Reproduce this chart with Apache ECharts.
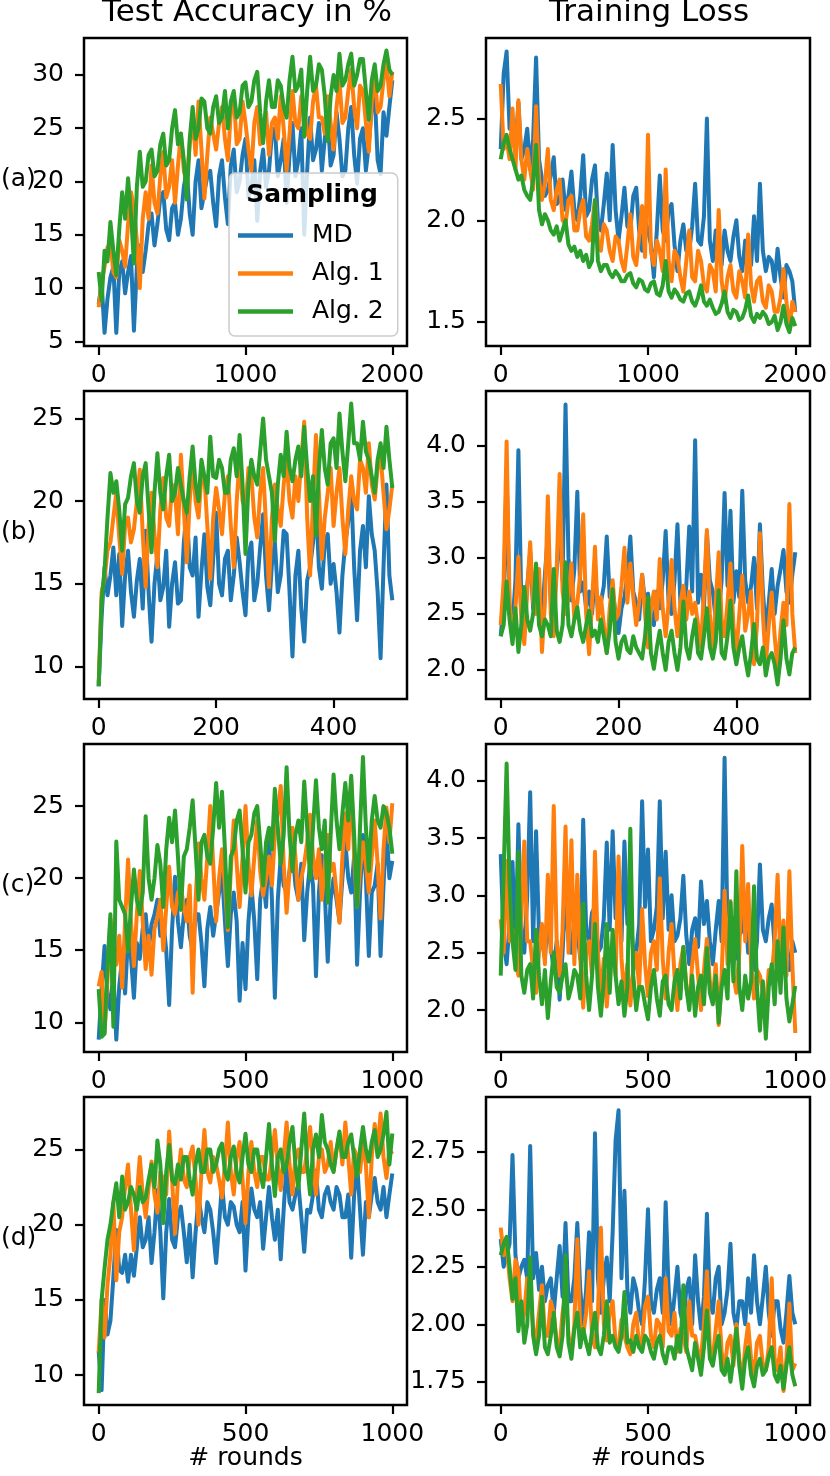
<!DOCTYPE html>
<html>
<head>
<meta charset="utf-8">
<title>Sampling comparison</title>
<script src="https://cdn.jsdelivr.net/npm/echarts@6.0.0/dist/echarts.min.js"></script>
</head>
<body style="margin:0;padding:0;background:#fff;">
<div id="main" style="width:830px;height:1476px;"></div>
<script type="text/javascript">
// series names
var names = ['MD', 'Alg. 1', 'Alg. 2'];
var colors = ['#1f77b4', '#ff7f0e', '#2ca02c'];

// (a) 2000 rounds, one point every 20 rounds
var aAccMD = [8.5,10.5,5.8,9,11,12,5.8,11.5,12.5,9.5,11.5,13,6,12,14,11.5,13.5,16,17,14,16,18.5,19,15.5,14.5,17.5,18,15,16.5,19.5,21,17,15,20,22,17.5,19,20.5,21,18,15.8,20.5,22,18.5,16,21.5,23,19,20,22.5,24,18.5,19.5,22,16.3,21,23,19.5,21,24.5,25,20.5,22,24,18,22.5,25.5,20.5,22,25,15,21,26,22,23,25.5,21,24,26,21.5,22.5,26.5,24,20.5,21,25,27,22.5,19.8,24,25,21,23.5,27,28.3,22,20.7,26.5,24.3,27,29.5];
var aAccA1 = [8.2,10.5,12,13.8,14.3,11.5,11,14.5,13.5,12,16,19,17.5,14.5,10,16.5,19,16.5,21.5,18,17,20.5,22.8,18.5,19.5,22,18,21.5,24.5,21,20,23.5,26,22.5,27.5,23,18.4,22.5,26,24.5,23,25.5,27,24,22,26.5,28,23.5,24,27.5,25.5,23,21,25.5,27,23.5,24,26.5,22.5,25.5,26,24,28,25,21,24.5,28.5,25.5,25,28,27,24.5,24,27.5,29,26,26,24.5,28,25.5,23,27,29.5,25.5,26,28.5,30.5,27,25,29,28.5,25.5,22.8,27.5,30,26.5,27,29.5,31.2,28,30.3];
var aAccA2 = [11.5,8.8,13.5,12.5,16.2,13.5,11.2,15.5,19,16.5,20.3,17,12.3,19.5,22.8,19.5,20,22.5,23,20.5,21,23.5,24.5,21.5,22,25,26.7,23.5,24.5,22,18.3,24,27,24,25,27.8,27.5,25,24.5,27,28,25.5,26,28.5,25,27.5,28.5,26,26.5,29,29.3,27,27.5,29.5,30.3,26.5,23.6,27.5,29.5,27,27,29.5,29,27,26,29.5,31.7,28.5,29,30.5,24.2,28.5,31.7,28.5,29,31,30.5,28,23.8,28,30,28.5,32,29,29.5,31,32,29,30,31.5,31.5,28.5,25.8,29.5,31,28.5,29,31,32.3,30.5,30];
var aLossMD = [2.35,2.72,2.83,2.45,2.5,2.35,2.58,2.3,2.35,2.45,2.25,2.4,2.8,2.3,2.2,2.12,2.15,2.22,2.31,2.08,2.1,2.2,2.05,2.12,2.24,2.05,2.0,2.12,2.32,2.02,2.05,2.2,2.27,2.0,1.95,2.08,2.23,2.0,2.37,2.05,1.9,2.02,2.16,1.97,1.95,2.12,2.16,1.95,1.85,2.0,1.95,1.88,1.72,1.95,2.22,1.95,1.9,2.05,2.08,1.88,1.75,1.9,1.98,1.85,1.85,1.97,2.18,1.9,1.88,2.02,2.5,1.9,1.8,1.95,1.85,1.78,1.95,1.85,1.8,1.92,2.0,1.82,1.75,1.9,1.85,1.78,2.02,1.8,2.18,1.85,1.75,1.82,1.8,1.7,1.86,1.72,1.62,1.78,1.75,1.7,1.55];
var aLossA1 = [2.67,2.35,2.4,2.3,2.55,2.25,2.59,2.3,2.2,2.35,2.25,2.15,2.56,2.2,2.1,2.18,2.35,2.1,2.05,2.15,2.2,2.0,1.98,2.1,2.12,1.95,1.95,2.05,2.1,1.92,1.9,1.98,2.1,1.9,1.85,1.98,1.95,1.85,1.8,1.92,1.9,1.8,1.75,1.88,2.03,1.82,1.78,1.92,2.07,1.82,2.42,1.85,1.78,1.9,1.85,1.75,2.25,1.8,1.7,1.85,1.82,1.72,1.65,1.8,1.95,1.72,1.7,1.85,1.8,1.68,1.65,1.78,1.75,1.65,2.05,1.7,1.6,1.72,1.78,1.65,1.62,1.75,1.7,1.62,1.93,1.68,1.6,1.7,1.72,1.6,1.57,1.68,1.65,1.55,1.55,1.62,1.76,1.6,1.46,1.6,1.55];
var aLossA2 = [2.3,2.38,2.42,2.35,2.3,2.25,2.2,2.22,2.15,2.12,2.1,2.2,2.37,2.05,1.98,2.03,2.0,1.95,1.93,1.97,1.9,1.95,2.0,1.88,1.85,1.87,1.82,1.85,1.8,1.83,1.77,1.8,2.1,1.8,1.75,1.78,1.78,1.74,1.72,1.75,1.73,1.7,1.7,1.73,1.74,1.69,1.67,1.71,1.7,1.66,1.65,1.69,1.7,1.64,1.63,1.68,1.8,1.65,1.62,1.66,1.64,1.61,1.6,1.64,1.65,1.6,1.58,1.62,1.68,1.6,1.58,1.61,1.57,1.54,1.55,1.59,1.65,1.55,1.52,1.56,1.55,1.51,1.52,1.56,1.63,1.53,1.5,1.54,1.52,1.55,1.53,1.49,1.5,1.53,1.46,1.5,1.58,1.49,1.45,1.52,1.48];

// (b) 500 rounds, one point every 5 rounds
var bAccMD = [8.8,13,16,14.3,15.5,17.2,14.3,16.8,12.45,15.5,17,14.5,13,15.2,16.5,13.5,18.2,14.5,11.5,15,16.8,14,14.8,17,12.4,15,16.3,13.8,14,17.5,19.5,16,15.5,17.8,13,15.8,18,14.8,13.7,16.5,19.3,15,14.3,16.5,17,14,15.5,17.8,16.3,14.5,13.1,16.8,17.5,14,15,17.2,19.2,15.5,13.4,16.2,17.5,14.5,15.5,18.2,18,14.5,10.6,15.5,17,13.5,11.5,15.2,16,17.5,19.8,16,14.7,17.5,18,15,16.2,14.5,12.05,15.5,17.5,18.8,20.7,16,12.8,17,18.5,16,20.3,18,17,14.5,10.5,16,21,15.5,14];
var bAccA1 = [9,14.5,15.3,17,17.5,19,20.5,17.8,15.6,18.5,19,17.5,18.3,20,21.9,18,14.8,18.5,20.5,18,16,19.5,21.4,19,18.5,21,20.5,18,22.8,19.5,16.3,20,22.4,20,19,21.5,21.5,18.5,15.3,19,20.8,19.5,18,20.5,21.5,18.5,16,20,22.5,20,19.5,22,21.5,19,17.8,20.5,22,18.5,14.8,19,21,19.5,18.5,21,22.5,20,19,21.5,20,22.5,24.8,19,15.5,20,24,20.5,16.5,19,20.5,22,18.5,20.5,22,19,16.8,19.5,21.5,20,19.5,22.5,22,20.5,23.5,21,20.1,22,22.8,20.5,18.3,19.5,21];
var bAccA2 = [8.8,14,15.8,19,21.7,20.5,21.2,19.5,17,19.8,20.2,21.5,22.3,20,19.3,21.5,22.3,19.5,16.9,20.5,22.9,20.5,19.5,21.5,22.8,20,20.5,22,21,20,19.3,21.5,23.3,21,20,22.5,21.5,20.5,23.9,21.5,21.4,22.5,22,20.5,20.5,22.5,23.2,21.5,24,21,16.8,21,22.5,21.5,21,23,25,22.5,21.5,20.5,17.6,21,22.8,21.5,24.2,22,21.2,22.5,23.3,21.5,24.5,22,20,21.5,17.9,22,24.3,22,21,23.5,23.8,22,25.3,23,21.2,23.5,25.9,23.5,23.5,22.5,24.8,23,22.5,21.5,20.5,22.5,23.5,22,24.5,22.5,20.8];
var bLossMD = [2.3,2.6,3.77,2.5,2.4,2.8,3.96,2.6,2.5,2.75,3.05,2.55,2.9,2.6,2.45,2.85,3.2,2.6,2.55,2.9,3.28,2.8,4.37,3.0,2.62,2.9,3.59,2.7,2.78,2.55,2.7,2.5,2.85,2.55,2.6,2.75,3.19,2.65,2.7,2.5,2.33,2.55,2.65,2.85,3.19,2.7,2.6,2.45,2.85,2.6,2.68,2.5,2.4,2.7,2.55,2.8,3.24,2.6,2.5,2.8,3.3,2.6,2.45,2.75,3.28,2.7,4.05,2.6,2.85,2.55,3.22,2.8,2.7,2.45,2.5,2.8,3.58,2.75,3.42,2.6,2.88,2.65,3.6,2.8,2.6,2.75,3.0,2.55,3.3,2.7,2.35,2.6,2.9,2.5,2.75,2.9,3.07,2.7,2.6,2.85,3.05];
var bLossA1 = [2.4,2.8,4.04,2.6,2.3,2.55,3.01,2.45,2.23,2.7,3.14,2.6,2.5,2.9,2.16,2.6,3.55,2.5,2.3,2.9,3.75,2.7,2.5,2.65,2.95,2.45,2.6,2.85,3.39,2.5,2.14,2.6,3.1,2.45,2.65,2.4,2.15,2.55,2.8,2.45,2.5,2.75,3.09,2.6,2.95,2.65,2.4,2.6,2.85,2.5,2.2,2.55,2.7,2.45,2.99,2.55,2.3,2.6,2.98,2.55,2.3,2.6,2.75,2.45,2.7,2.5,2.6,2.4,2.2,2.7,3.25,2.5,2.15,2.6,3.05,2.45,2.3,2.6,2.95,2.4,2.15,2.5,2.84,2.35,2.5,2.7,2.05,2.4,3.22,2.5,2.05,2.4,2.69,2.3,2.01,2.35,2.6,2.4,3.48,2.5,2.15];
var bLossA2 = [2.3,2.4,2.79,2.45,2.23,2.55,2.16,2.4,2.74,2.45,2.35,2.5,2.95,2.4,2.3,2.45,2.4,2.3,2.9,2.35,2.25,2.4,2.96,2.4,2.3,2.45,2.56,2.35,2.25,2.4,2.53,2.3,2.35,2.25,2.45,2.3,2.15,2.35,2.72,2.25,2.1,2.25,2.3,2.18,2.15,2.3,2.2,2.15,2.1,2.3,2.65,2.15,2.01,2.2,2.35,2.15,2.0,2.25,2.35,2.15,2.0,2.2,2.61,2.2,2.1,2.3,2.45,2.15,2.1,2.3,2.55,2.2,2.1,2.25,2.71,2.15,2.1,2.3,2.62,2.2,2.05,2.2,2.3,2.1,1.95,2.15,2.41,2.1,2.05,2.2,1.95,2.1,2.15,2.05,1.87,2.1,2.44,2.1,1.96,2.15,2.2];

// (c) 1000 rounds, one point every 10 rounds
var cAccMD = [8.8,12.3,15.3,12,10.9,13.5,8.8,12.5,14.5,12,16,14.5,11.7,15.5,14.4,16.5,17.5,15,16.8,17.5,18.5,16,17,15,11.2,16.5,20.1,17,15.2,17.5,18.5,16,15,17.5,17.5,15.5,12.5,16.5,18,16,17.5,19,20.5,17,13.9,17.5,19,17,11.5,15.5,12.3,17,19.5,17,13,18.5,20,18,22.8,18.5,11.7,18.5,21.5,19.5,19,20.5,22,19.5,18.5,21,15.7,19,21,19.5,13.2,19,21.6,19,14.2,18.5,20,18.5,17,20,22.5,20,19,21.5,14,19,23,20,14.6,19,19.5,21,14.6,19.5,23.6,20,21.2];
var cAccA1 = [12.5,13.5,9.3,13,17.2,15.5,14,16,12.4,17,21.3,17,13.9,17.5,20.5,17,13.7,16,13.3,16.5,17.3,18.5,15,18,20.8,18,17.5,19,19.4,18,17,19.5,12.05,18.5,22.4,20,18.5,21.5,25,21,17,20,22,19.5,16.4,20.5,24,21,18,21.5,25,21,18.8,21.5,24,20.5,18.8,20,21.5,19.5,23,24.5,26.4,21,17.6,20.5,23.5,21.5,18.5,20,21,22.5,24.4,21.5,20,22,18.5,21,23,20.5,21,19,16.9,21.5,24.5,22,26.7,21.5,18,20.5,22.5,21,19,21.5,24,21,17.2,22,24.9,22.5,25.2];
var cAccA2 = [12.3,9,9.2,14,17.5,9.7,22.55,18.5,18,17.5,14.9,18,20.6,18.5,17.5,19,24.3,20,18.5,20,22.3,21,18,22,24.2,22.5,24.7,21.5,17.8,21.5,22,23.5,25.4,22,18.5,22.5,23,21.5,21,23.5,26.6,23.5,26,22,16.6,21.5,22,24,24.7,22,19,22.5,23,24.5,25,22.5,19.5,22.5,23.5,22,26.2,23.5,21,23,27.7,23,20.5,23,24,22.5,26.7,23.5,20,23.5,26.8,23.5,22,24,18.3,23,27.2,24,22,24.5,26.6,24,27.1,23,18,23.5,28.4,23.5,20.5,24,25.7,24,23.5,25,24.5,23.5,21.7];
var cLossMD = [3.36,2.6,2.4,2.75,3.29,2.5,3.62,2.7,2.5,3.0,3.9,2.6,3.56,2.65,2.6,2.45,2.8,2.55,2.35,2.6,2.09,2.5,3.05,2.6,2.5,2.8,2.7,2.45,3.66,2.7,2.6,2.85,2.9,2.5,2.55,2.8,3.46,2.7,3.56,2.8,3.1,2.6,3.47,2.75,2.85,2.5,2.5,2.75,3.82,2.9,3.4,2.6,2.7,2.9,3.82,2.8,3.38,2.7,3.0,2.6,2.65,2.8,3.17,2.65,2.4,2.7,2.8,2.55,3.12,2.75,2.95,2.6,2.4,2.7,2.95,2.6,4.2,2.7,2.5,2.8,2.45,2.65,2.7,2.9,2.5,2.75,2.35,2.6,3.27,2.7,2.6,2.8,2.92,2.55,2.45,2.7,2.65,2.4,2.35,2.6,2.5];
var cLossA1 = [2.79,2.5,3.3,2.6,2.7,2.45,2.3,2.8,3.47,2.6,2.6,2.35,2.15,2.5,2.75,2.4,3.18,2.5,3.78,2.6,2.3,2.7,3.6,2.5,3.48,2.4,3.18,2.45,2.02,2.5,2.6,2.3,3.38,2.5,2.1,2.45,2.03,2.4,2.6,2.3,3.34,2.45,2.1,2.4,2.04,2.35,2.5,2.2,2.88,2.4,2.12,2.5,2.6,2.35,3.15,2.45,2.1,2.5,2.75,2.3,2.0,2.4,2.55,2.2,2.05,2.4,2.62,2.3,2.0,2.35,2.62,2.25,2.1,2.4,1.87,2.3,3.04,2.4,2.95,2.3,2.15,2.5,3.43,2.6,3.1,2.4,2.1,2.35,2.3,2.15,2.0,2.35,2.3,2.6,3.18,2.4,2.78,2.3,3.21,2.4,1.8];
var cLossA2 = [2.3,3.2,4.15,3.1,2.6,2.35,3.38,2.3,2.15,2.35,2.4,2.1,2.7,2.3,2.05,2.35,1.93,2.25,2.5,2.2,2.15,2.3,2.4,2.1,2.2,2.35,2.3,2.1,2.93,2.3,2.0,2.3,2.75,2.2,1.95,2.25,2.75,2.15,2.7,2.3,2.05,2.25,1.95,2.2,3.58,2.3,2.0,2.2,2.2,2.05,1.92,2.2,2.35,2.1,1.95,2.25,2.3,2.05,2.0,2.25,2.35,2.1,2.55,2.2,2.0,2.3,1.95,2.2,2.3,2.05,2.54,2.15,2.05,2.3,1.89,2.2,2.35,2.1,2.94,2.25,3.21,2.2,2.0,2.3,2.1,2.25,3.08,2.2,1.82,2.25,1.75,2.2,2.4,2.05,2.6,2.15,2.72,2.1,1.9,2.05,2.21];

// (d) 1000 rounds, one point every 10 rounds
var dAccMD = [11.6,9,15,12.7,13.6,16.5,19.65,17,16.8,18,16.2,18,16.6,18.5,20.5,18.5,19,20.5,17.45,19.5,22.3,19.5,15.1,19.5,21.7,19,18.5,20.5,21.2,19.5,17.5,20,16.5,19.5,21.8,20.5,19.5,21.5,21,19.5,17.45,20,22.7,20.5,20,21.5,21.2,20,19.5,21.5,16.95,20.5,22.4,21,20.5,21.5,18.4,20.5,22.5,20.5,19,21,17.7,21,24.1,21.5,21,22,22.7,20.5,18.2,21,20.8,22,23.6,21,20.5,22,22.5,21.5,21,22.5,22,20.5,20.5,22,17.8,22,24.1,21,18,21.5,20.5,22,23.1,21.5,21,22.5,20.5,22,23.4];
var dAccA1 = [11.5,15,12.5,16,18,21.5,16.3,19.5,20.5,22.5,24,21,18.3,22,24.5,22,20.5,22.5,24.2,22,20.8,23.5,23,22,26.2,23,19.4,23,25,23,22.5,24.5,25.2,23,20,23.5,26.3,23.5,22.8,24.5,24,23,21.8,24,26.8,23.5,22,24.5,25.5,23,20.1,23.5,25.5,23.5,22.5,24.5,24.5,23,23,24.5,26.3,24,22.3,24.5,26.8,24,22,24.5,25,23.5,23.5,25,26.5,24,22,24.5,25,23.5,24,25.5,23.6,25,26,24,26.8,24.5,22,25,24.5,23.5,25.5,24,20.5,24.5,26.7,25,27.4,24.5,23.1,25,24.7];
var dAccA2 = [8.8,15,17.1,19,20,21.5,22.75,20.5,23.2,21,21.5,22.5,22,21,22.5,21.5,21.8,23,24,22.5,25.6,24,20.1,23.5,25.3,23,22.7,24,23,24.5,24.5,23,22,24,25,23.5,23.5,25,25,23.5,24,25,25.4,23.5,23,24.5,25.2,23.5,22.8,24.5,26.05,24,23.5,25,25,23.5,22.5,24.5,26.7,24,21.9,24.5,25,23.5,24,25.5,26.5,24,22.4,25,27.4,24,22,25,26,24.5,27.3,25.5,25,24,23.5,25,26.2,24.5,24.5,25.5,26,24.5,23.2,25,26.5,25,24.2,25.5,26.3,24.5,25,26,27.5,24,26.06];
var dLossMD = [2.37,2.25,2.3,2.35,2.736,2.3,2.2,2.25,2.28,2.2,2.775,2.2,2.31,2.15,2.25,2.1,2.17,2.2,2.05,2.2,2.34,2.12,2.44,2.1,2.1,2.2,2.44,2.15,2.0,2.15,2.4,2.1,2.83,2.2,2.05,2.2,2.29,2.1,2.4,2.8,2.93,2.2,2.58,2.15,2.05,2.2,2.15,2.05,2.0,2.2,2.5,2.1,2.05,2.15,2.2,2.05,2.53,2.15,2.0,2.12,2.25,2.05,2.0,2.15,2.2,2.0,2.3,2.1,1.98,2.12,2.48,2.1,2.05,2.2,2.25,2.0,2.05,2.15,2.35,2.05,1.98,2.1,2.1,2.0,2.2,2.05,2.3,2.1,2.0,2.12,2.25,2.05,1.95,2.1,2.1,1.98,1.92,2.05,2.21,2.05,2.0];
var dLossA1 = [2.42,2.3,2.35,2.2,2.1,2.28,2.23,2.0,2.05,2.2,2.15,1.98,1.93,2.05,2.17,1.95,1.95,2.1,2.05,1.92,1.9,2.05,2.13,1.95,1.87,2.0,2.37,1.97,1.95,2.05,2.23,1.95,1.9,2.05,2.42,2.0,1.93,2.05,2.1,1.92,1.9,2.02,1.95,1.9,1.87,2.0,2.05,1.9,1.93,2.08,2.12,1.95,1.9,2.02,2.0,1.9,2.2,1.97,1.95,2.05,1.88,1.98,1.95,1.88,2.1,1.95,1.95,1.88,1.85,2.0,2.23,1.9,1.85,1.98,2.1,1.88,1.8,1.92,1.95,1.82,2.0,1.85,1.75,1.9,2.0,1.85,1.78,1.92,1.95,1.82,1.8,1.9,2.2,1.85,1.8,1.9,1.71,1.85,2.09,1.8,1.83];
var dLossA2 = [2.3,2.35,2.38,2.25,2.11,2.2,1.97,2.1,1.92,2.0,2.29,1.95,1.87,1.95,2.12,1.9,1.87,1.95,2.05,1.9,1.86,1.95,2.3,1.92,1.85,1.98,2.05,1.9,1.98,1.92,1.87,1.97,2.05,1.9,1.87,1.95,2.1,1.92,1.95,1.9,1.88,1.95,2.14,1.92,1.93,1.88,1.95,1.9,1.88,1.95,1.93,1.88,1.85,1.92,1.95,1.87,1.83,1.9,1.9,1.85,1.95,1.88,2.17,1.9,1.85,1.8,1.92,1.85,1.78,1.9,2.06,1.85,1.82,1.9,1.95,1.8,1.78,1.85,1.75,1.85,1.98,1.82,1.72,1.85,1.9,1.78,1.73,1.82,1.85,1.78,1.8,1.86,1.9,1.78,1.75,1.82,1.72,1.82,1.9,1.78,1.73];

// tick labels
var xTicks2000 = [0, 1000, 2000];
var xTicks500 = [0, 200, 400];
var xTicks1000 = [0, 500, 1000];
var accTicksA = [5, 10, 15, 20, 25, 30];
var accTicks = [10, 15, 20, 25];
var lossTicksA = [1.5, 2.0, 2.5];
var lossTicksBC = [2.0, 2.5, 3.0, 3.5, 4.0];
var lossTicksD = [1.75, 2.00, 2.25, 2.50, 2.75];

var panels = [
	{ row: 0, col: 0, xmax: 2000, step: 20, xt: xTicks2000, ylim: [4.56, 33.47], yt: accTicksA, dec: 0, d: [aAccMD, aAccA1, aAccA2] },
	{ row: 0, col: 1, xmax: 2000, step: 20, xt: xTicks2000, ylim: [1.382, 2.896], yt: lossTicksA, dec: 1, d: [aLossMD, aLossA1, aLossA2] },
	{ row: 1, col: 0, xmax: 500, step: 5, xt: xTicks500, ylim: [8.03, 26.66], yt: accTicks, dec: 0, d: [bAccMD, bAccA1, bAccA2] },
	{ row: 1, col: 1, xmax: 500, step: 5, xt: xTicks500, ylim: [1.74, 4.49], yt: lossTicksBC, dec: 1, d: [bLossMD, bLossA1, bLossA2] },
	{ row: 2, col: 0, xmax: 1000, step: 10, xt: xTicks1000, ylim: [7.94, 29.31], yt: accTicks, dec: 0, d: [cAccMD, cAccA1, cAccA2] },
	{ row: 2, col: 1, xmax: 1000, step: 10, xt: xTicks1000, ylim: [1.634, 4.32], yt: lossTicksBC, dec: 1, d: [cLossMD, cLossA1, cLossA2] },
	{ row: 3, col: 0, xmax: 1000, step: 10, xt: xTicks1000, ylim: [8.01, 28.49], yt: accTicks, dec: 0, d: [dAccMD, dAccA1, dAccA2] },
	{ row: 3, col: 1, xmax: 1000, step: 10, xt: xTicks1000, ylim: [1.649, 2.988], yt: lossTicksD, dec: 2, d: [dLossMD, dLossA1, dLossA2] }
];

var rowTop = [38, 391, 744, 1097];
var colLeft = [84, 486];
var colWidth = [323, 324];
var FONT = 'DejaVu Sans';
var black = '#000';

var grids = [], xAxes = [], yAxes = [], series = [];

panels.forEach(function (p, k) {
	grids.push({
		left: colLeft[p.col], top: rowTop[p.row], width: colWidth[p.col], height: 308,
		show: true, borderColor: black, borderWidth: 2.5, backgroundColor: 'transparent',
		containLabel: false, outerBoundsMode: 'none'
	});
	var bottom = p.row === 3;
	xAxes.push({
		type: 'value', gridIndex: k,
		min: -p.xmax * 0.05, max: p.xmax * 1.05,
		name: bottom ? '# rounds' : '',
		nameLocation: 'middle', nameGap: 41, nameMoveOverlap: false,
		nameTextStyle: { fontSize: 25, color: black, fontFamily: FONT },
		axisLine: { show: false, onZero: false },
		axisTick: { show: true, length: 9, customValues: p.xt, lineStyle: { color: black, width: 2.2 } },
		axisLabel: {
			customValues: p.xt, fontSize: 25, color: black, fontFamily: FONT, margin: 17,
			formatter: function (v) { return String(Math.round(v)); }
		},
		splitLine: { show: false }
	});
	yAxes.push({
		type: 'value', gridIndex: k,
		min: p.ylim[0], max: p.ylim[1],
		axisLine: { show: false, onZero: false },
		axisTick: { show: true, length: 9, customValues: p.yt, lineStyle: { color: black, width: 2.2 } },
		axisLabel: {
			customValues: p.yt, fontSize: 25, color: black, fontFamily: FONT, margin: 20,
			formatter: (function (dec) { return function (v) { return Number(v).toFixed(dec); }; })(p.dec)
		},
		splitLine: { show: false }
	});
	p.d.forEach(function (vals, s) {
		series.push({
			type: 'line', name: names[s], xAxisIndex: k, yAxisIndex: k,
			data: vals.map(function (v, i) { return [i * p.step, v]; }),
			showSymbol: false, symbol: 'none',
			lineStyle: { color: colors[s], width: 4, join: 'round' },
			itemStyle: { color: colors[s] },
			emphasis: { disabled: true }
		});
	});
});

var rowLabels = ['(a)', '(b)', '(c)', '(d)'];
var graphics = [
	{ type: 'text', x: 247, y: 13, z: 100, style: { text: 'Test Accuracy in %', fill: black, fontSize: 31, fontFamily: FONT, align: 'center', verticalAlign: 'middle' } },
	{ type: 'text', x: 649, y: 13, z: 100, style: { text: 'Training Loss', fill: black, fontSize: 31, fontFamily: FONT, align: 'center', verticalAlign: 'middle' } },
	{ type: 'text', x: 312, y: 195, z: 100, style: { text: 'Sampling', fill: black, fontSize: 25, fontWeight: 'bold', fontFamily: FONT, align: 'center', verticalAlign: 'middle' } }
];
rowLabels.forEach(function (t, r) {
	graphics.push({ type: 'text', x: 1, y: rowTop[r] + 141, z: 100, style: { text: t, fill: black, fontSize: 25, fontFamily: FONT, align: 'left', verticalAlign: 'middle' } });
});

var myChart = echarts.init(document.getElementById('main'), null, { renderer: 'canvas' });
myChart.setOption({
	animation: false,
	backgroundColor: '#fff',
	textStyle: { fontFamily: FONT },
	grid: grids,
	xAxis: xAxes,
	yAxis: yAxes,
	series: series,
	legend: {
		data: names, orient: 'vertical', left: 229, top: 173,
		padding: [50, 14, 12, 9], itemGap: 13, itemWidth: 55, itemHeight: 4.5, icon: 'rect',
		selectedMode: false,
		textStyle: { fontSize: 25, color: black, fontFamily: FONT, padding: [0, 0, 0, 14] },
		backgroundColor: 'rgba(255,255,255,0.8)', borderColor: '#cccccc', borderWidth: 1.5, borderRadius: 6
	},
	graphic: graphics
});
</script>
</body>
</html>
